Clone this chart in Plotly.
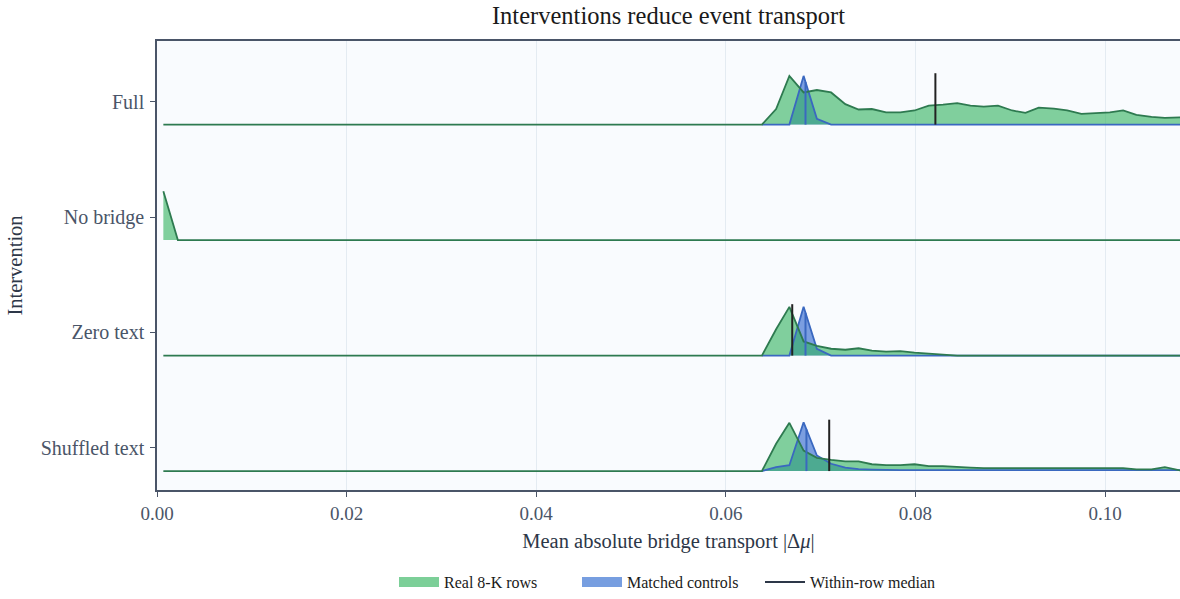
import numpy as np
import plotly.graph_objects as go

# ---------------- data ----------------
ROWS = ["Full", "No bridge", "Zero text", "Shuffled text"]
ROW_POS = [3, 2, 1, 0]

START_X = 0.00067
GRID = [0.0638, 0.0653, 0.0667, 0.0682, 0.0696, 0.0711, 0.0726, 0.0740, 0.0754,
        0.0769, 0.0784, 0.0799, 0.0814, 0.0829, 0.0844, 0.0858, 0.0872, 0.0887,
        0.0902, 0.0916, 0.0930, 0.0946, 0.0960, 0.0975, 0.0990, 0.1005, 0.1019,
        0.1033, 0.1049, 0.1063, 0.1079, 0.1094]

full_real = [0, 0.32, 1.0, 0.66, 0.71, 0.66, 0.42, 0.31, 0.32, 0.25, 0.25, 0.29,
             0.39, 0.41, 0.44, 0.39, 0.37, 0.39, 0.29, 0.24, 0.35, 0.33, 0.29, 0.22,
             0.23, 0.25, 0.29, 0.20, 0.16, 0.14, 0.15, 0.14]
full_ctrl = [0, 0, 0, 1.0, 0.12, 0, 0, 0, 0, 0, 0, 0, 0, 0, 0, 0, 0, 0, 0, 0, 0,
             0, 0, 0, 0, 0, 0, 0, 0, 0, 0, 0]

nobridge_x = [0.00067, 0.0022, 0.1094]
nobridge_real = [1.0, 0, 0]

zero_real = [0, 0.54, 1.0, 0.29, 0.20, 0.14, 0.12, 0.15, 0.10, 0.08, 0.09, 0.06,
             0.04, 0.015, 0, 0, 0, 0, 0, 0, 0, 0, 0, 0, 0, 0, 0, 0, 0, 0, 0, 0]
zero_ctrl = [0, 0, 0, 1.0, 0.14, 0, 0, 0, 0, 0, 0, 0, 0, 0, 0, 0, 0, 0, 0, 0, 0,
             0, 0, 0, 0, 0, 0, 0, 0, 0, 0, 0]

shuf_real = [0, 0.56, 0.99, 0.42, 0.27, 0.23, 0.20, 0.20, 0.14, 0.12, 0.12, 0.14,
             0.10, 0.10, 0.08, 0.07, 0.06, 0.06, 0.07, 0.07, 0.06, 0.07, 0.07, 0.06,
             0.06, 0.055, 0.06, 0.035, 0.035, 0.08, 0.015, 0.015]
shuf_ctrl = [0, 0.08, 0.12, 1.0, 0.32, 0.15, 0.07, 0.04, 0.03, 0.02, 0.02, 0.02,
             0.02, 0.02, 0.02, 0.02, 0.02, 0.02, 0.02, 0.02, 0.02, 0.02, 0.02, 0.02,
             0.02, 0.02, 0.02, 0.02, 0.02, 0.02, 0.02, 0.02]

real_median = {"Full": 0.0821, "Zero text": 0.0670, "Shuffled text": 0.0709}
ctrl_median = {"Full": 0.0684, "Zero text": 0.0684, "Shuffled text": 0.0685}

X_TICKS = [0.00, 0.02, 0.04, 0.06, 0.08, 0.10]

# ---------------- style ----------------
SCALE = 0.422
MED_H = 0.445
GREEN_FILL = "rgba(46,178,91,0.6)"
GREEN_LINE = "#2e7a50"
BLUE_FILL = "rgba(80,127,214,0.75)"
BLUE_LINE = "#3a68c0"
FONT = "Liberation Serif"

real_series = {
    "Full": ([START_X] + GRID, [0] + full_real),
    "No bridge": (nobridge_x, nobridge_real),
    "Zero text": ([START_X] + GRID, [0] + zero_real),
    "Shuffled text": ([START_X] + GRID, [0] + shuf_real),
}
ctrl_series = {
    "Full": (GRID, full_ctrl),
    "Zero text": (GRID, zero_ctrl),
    "Shuffled text": (GRID, shuf_ctrl),
}

fig = go.Figure()


def polygon(xs, vals, base):
    xs = list(xs)
    top = [base + v * SCALE for v in vals]
    return xs + xs[::-1], top + [base] * len(xs)


# fills: blue first, green on top
for name, pos in zip(ROWS, ROW_POS):
    if name in ctrl_series:
        xs, vals = ctrl_series[name]
        px, py = polygon(xs, vals, pos)
        fig.add_trace(go.Scatter(x=px, y=py, fill="toself", fillcolor=BLUE_FILL,
                                 mode="lines", line=dict(width=0), hoverinfo="skip",
                                 showlegend=False))
    xs, vals = real_series[name]
    px, py = polygon(xs, vals, pos)
    fig.add_trace(go.Scatter(x=px, y=py, fill="toself", fillcolor=GREEN_FILL,
                             mode="lines", line=dict(width=0), hoverinfo="skip",
                             showlegend=False))

# outlines: blue, then green on top
for name, pos in zip(ROWS, ROW_POS):
    if name in ctrl_series:
        xs, vals = ctrl_series[name]
        fig.add_trace(go.Scatter(x=xs, y=[pos + v * SCALE for v in vals], mode="lines",
                                 line=dict(color=BLUE_LINE, width=1.8), showlegend=False,
                                 hoverinfo="skip"))
for name, pos in zip(ROWS, ROW_POS):
    xs, vals = real_series[name]
    fig.add_trace(go.Scatter(x=xs, y=[pos + v * SCALE for v in vals], mode="lines",
                             line=dict(color=GREEN_LINE, width=1.8), showlegend=False,
                             hoverinfo="skip"))
for name, pos in zip(ROWS, ROW_POS):
    if name in ctrl_series:
        xs, vals = ctrl_series[name]
        m = ctrl_median[name]
        h = float(np.interp(m, xs, vals)) * SCALE
        fig.add_trace(go.Scatter(x=[m, m], y=[pos, pos + h], mode="lines",
                                 line=dict(color=BLUE_LINE, width=2), showlegend=False,
                                 hoverinfo="skip"))

# within-row medians
for name, pos in zip(ROWS, ROW_POS):
    if name in real_median:
        m = real_median[name]
        fig.add_trace(go.Scatter(x=[m, m], y=[pos, pos + MED_H], mode="lines",
                                 line=dict(color="#222222", width=2), showlegend=False,
                                 hoverinfo="skip"))

# legend entries
fig.add_trace(go.Scatter(x=[None], y=[None], mode="lines",
                         line=dict(width=12, color="#7ccf98"), name="Real 8-K rows"))
fig.add_trace(go.Scatter(x=[None], y=[None], mode="lines",
                         line=dict(width=12, color="#779ee0"), name="Matched controls"))
fig.add_trace(go.Scatter(x=[None], y=[None], mode="lines",
                         line=dict(color="#2d3748", width=2), name="Within-row median"))

fig.update_layout(
    width=1180, height=599,
    margin=dict(l=157, r=0, t=41, b=108),
    paper_bgcolor="white",
    plot_bgcolor="#f9fbfe",
    font=dict(family=FONT, size=19, color="#4a5568"),
    title=dict(text="Interventions reduce event transport", x=0.5, xref="paper",
               y=1 - 15 / 599, yref="container", yanchor="middle", xanchor="center",
               font=dict(family=FONT, size=24.5, color="#1a1a1a")),
    xaxis=dict(
        range=[0, 0.1079], tickvals=X_TICKS, tickformat=".2f",
        tickfont=dict(family=FONT, size=19, color="#4a5568"),
        showgrid=True, gridcolor="#e4ebf2", gridwidth=1,
        showline=True, linecolor="#4a5568", linewidth=1.5, mirror=True,
        ticks="outside", ticklen=5, tickcolor="#4a5568",
        zeroline=False, automargin=False,
        title=dict(text="Mean absolute bridge transport |Δ<i>μ</i>|",
                   font=dict(family=FONT, size=20.5, color="#2d3748"), standoff=11),
    ),
    yaxis=dict(
        range=[-0.164, 3.724],
        tickvals=[p + 0.2 for p in ROW_POS], ticktext=ROWS,
        tickfont=dict(family=FONT, size=20, color="#4a5568"),
        ticklabelstandoff=2,
        showgrid=False, zeroline=False, automargin=False,
        showline=True, linecolor="#4a5568", linewidth=1.5, mirror=True,
        ticks="outside", ticklen=5, tickcolor="#4a5568",
        title=dict(text="Intervention", font=dict(family=FONT, size=20.5, color="#2d3748"),
                   standoff=13),
    ),
    legend=dict(orientation="h", x=0.5, xanchor="center", xref="paper",
                y=-0.204, yanchor="middle",
                font=dict(family=FONT, size=16, color="#1a1a1a"),
                itemwidth=40, entrywidth=128, entrywidthmode="pixels",
                bgcolor="rgba(0,0,0,0)"),
    showlegend=True,
)

fig.write_html("out.html", config={"displayModeBar": False},
               post_script="document.body.style.margin='0px';")
